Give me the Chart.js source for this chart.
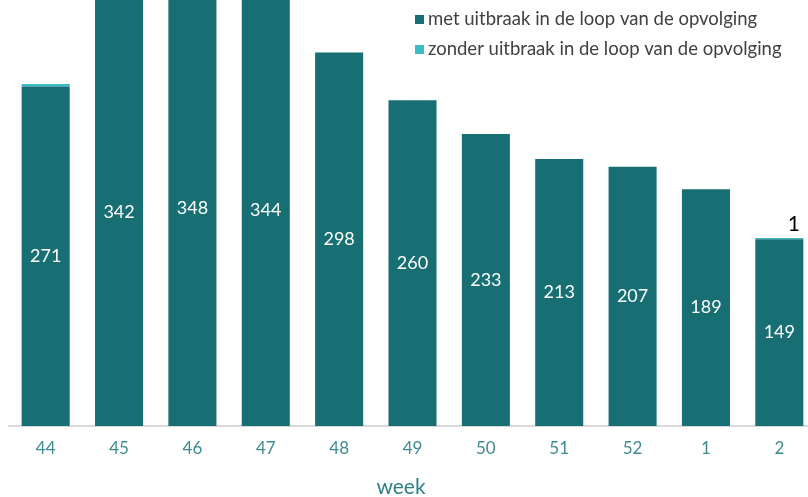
<!DOCTYPE html>
<html>
<head>
<meta charset="utf-8">
<script src="https://cdn.jsdelivr.net/npm/chart.js@4"></script>
<style>
    html, body { margin: 0; padding: 0; background: #ffffff; overflow: hidden; }
    #wrap { width: 816px; height: 497px; position: relative; }
</style>
</head>
<body>
<div id="wrap"><canvas id="week_canvas"></canvas></div>
<script>
// data
let weeks = ["44", "45", "46", "47", "48", "49", "50", "51", "52", "1", "2"];
let met_uitbraak = [271, 342, 348, 344, 298, 260, 233, 213, 207, 189, 149];
let zonder_uitbraak = [2, 0, 0, 0, 0, 0, 0, 0, 0, 0, 1];
let zonder_labels_shown = [false, false, false, false, false, false, false, false, false, false, true];
let y_max = 340;

let label_met = "met uitbraak in de loop van de opvolging";
let label_zonder = "zonder uitbraak in de loop van de opvolging";
let axis_title = "week";

let dark_teal = "#176f74";
let light_teal = "#3cbcc3";
let tick_color = "#3f8b92";
let font_family = "Lato, 'Open Sans', sans-serif";

document.addEventListener("DOMContentLoaded", ()=>{
    draw_chart(document.getElementById("week_canvas"));
});

// white value labels in the dark bars, black label above tiny light bars
let value_labels = {
    id: "value_labels",
    afterDatasetsDraw(chart){
        let ctx = chart.ctx;
        ctx.save();
        ctx.font = "18px " + font_family;
        ctx.textAlign = "center";
        ctx.textBaseline = "middle";

        let met_meta = chart.getDatasetMeta(0);
        let y_scale = chart.scales.y;
        met_meta.data.forEach((bar, i)=>{
            let mid = y_scale.getPixelForValue(met_uitbraak[i] / 2);
            ctx.fillStyle = "#ffffff";
            ctx.fillText(String(met_uitbraak[i]), bar.x, mid);
        });

        let zonder_meta = chart.getDatasetMeta(1);
        ctx.font = "21px " + font_family;
        zonder_meta.data.forEach((bar, i)=>{
            if(!zonder_labels_shown[i]) return;
            ctx.fillStyle = "#000000";
            ctx.textBaseline = "bottom";
            ctx.fillText(String(zonder_uitbraak[i]), bar.x + bar.width * 0.3, bar.y - 3);
        });
        ctx.restore();
    }
};

// legend inside the plot area (top right) and the axis title centred on the page
let inner_legend = {
    id: "inner_legend",
    afterDraw(chart){
        let ctx = chart.ctx;
        ctx.save();
        ctx.font = "18.5px " + font_family;
        ctx.textBaseline = "middle";
        ctx.textAlign = "left";
        let x0 = 415;
        let rows = [19, 49];
        chart.data.datasets.forEach((ds, i)=>{
            ctx.fillStyle = ds.backgroundColor;
            ctx.fillRect(x0, rows[i] - 4, 9, 9);
            ctx.fillStyle = "#404040";
            ctx.fillText(ds.label, x0 + 13, rows[i]);
        });

        ctx.font = "21px " + font_family;
        ctx.textAlign = "center";
        ctx.fillStyle = "#2f7f86";
        ctx.fillText(axis_title, 401, 487);
        ctx.restore();
    }
};

function draw_chart(canvas){
    return new Chart(canvas, {
        type: "bar",
        data: {
            labels: weeks,
            datasets: [
                {
                    label: label_met,
                    data: met_uitbraak,
                    backgroundColor: dark_teal,
                    borderWidth: 0,
                    barPercentage: 0.655,
                    categoryPercentage: 1.0
                },
                {
                    label: label_zonder,
                    data: zonder_uitbraak,
                    backgroundColor: light_teal,
                    borderWidth: 0,
                    barPercentage: 0.655,
                    categoryPercentage: 1.0
                }
            ]
        },
        options: {
            animation: false,
            responsive: true,
            maintainAspectRatio: false,
            layout: { padding: { left: 9, right: 0, top: 0, bottom: 0 } },
            plugins: {
                legend: { display: false },
                tooltip: { enabled: false }
            },
            scales: {
                x: {
                    stacked: true,
                    grid: { display: false, drawTicks: false },
                    border: { display: true, color: "#d9d9d9", width: 2 },
                    ticks: {
                        color: tick_color,
                        font: { family: font_family, size: 17 },
                        padding: 12
                    },
                    title: {
                        // keeps the room below the ticks; the text itself is drawn by inner_legend
                        display: true,
                        text: axis_title,
                        color: "rgba(0,0,0,0)",
                        font: { family: font_family, size: 18 },
                        padding: { top: 5, bottom: 0 }
                    }
                },
                y: {
                    stacked: true,
                    display: false,
                    min: 0,
                    max: y_max
                }
            }
        },
        plugins: [value_labels, inner_legend]
    });
}
</script>
</body>
</html>
